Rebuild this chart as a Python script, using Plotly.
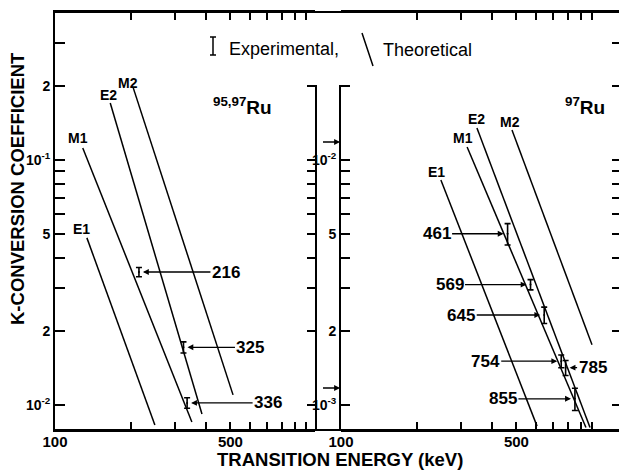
import numpy as np
import plotly.graph_objects as go

# ---------------- data ----------------
energy_ticks = [100, 200, 300, 400, 500, 600, 700, 800, 900, 1000]
energy_ticktext = ["100", "", "", "", "500", "", "", "", "", ""]

left_y_ticks = [0.01, 0.02, 0.03, 0.04, 0.05, 0.06, 0.07, 0.08, 0.09, 0.1, 0.2, 0.3]
left_y_text = ["10<sup>-2</sup>", "2", "", "", "5", "", "", "", "", "10<sup>-1</sup>", "2", ""]
right_y_ticks = [0.001, 0.002, 0.003, 0.004, 0.005, 0.006, 0.007, 0.008, 0.009, 0.01, 0.02, 0.03]
right_y_text = ["10<sup>-3</sup>", "2", "", "", "5", "", "", "", "", "10<sup>-2</sup>", "", ""]

# theoretical lines (start / end points), left panel 95,97Ru
left_lines = ["E1", "M1", "E2", "M2"]
left_e_start = [134, 129, 166, 205]
left_e_end = [250, 351, 385, 512]
left_a_start = [0.0481, 0.112, 0.171, 0.197]
left_a_end = [0.00828, 0.00853, 0.00919, 0.0110]

# theoretical lines, right panel 97Ru
right_lines = ["E1", "M1", "E2", "M2"]
right_e_start = [250, 318, 348, 480]
right_e_end = [604, 946, 982, 1000]
right_a_start = [0.00829, 0.0113, 0.0135, 0.01326]
right_a_end = [0.00082, 0.00081, 0.00081, 0.00176]

# experimental points
left_exp_energy = [216, 325, 336]
left_exp_alpha = [0.0349, 0.0172, 0.0102]
left_exp_err = [0.0015, 0.0009, 0.0005]

right_exp_energy = [461, 569, 645, 754, 785, 855]
right_exp_alpha = [0.0050, 0.0031, 0.00233, 0.00151, 0.00142, 0.00106]
right_exp_err = [0.0005, 0.00015, 0.00018, 0.00009, 0.0001, 0.00011]

# ---------------- layout geometry (pixels) ----------------
W, H = 619, 471
ML, MR, MT, MB = 55, 0, 12, 41
PW, PH = W - ML - MR, H - MT - MB
LEFT_END, RIGHT_START = 315, 341
DEC_X = 251.0
Y_TOP_LOG_L = -1 + 148 / 245
Y_BOT_LOG_L = -1 - 270 / 245
STRIP_TOP = 85


def px(x):
    return (x - ML) / PW


def py(y):
    return (MT + PH - y) / PH


FONT = "Liberation Sans"
BLACK = "black"

fig = go.Figure()

# theoretical lines
for i, name in enumerate(left_lines):
    fig.add_trace(go.Scatter(x=[left_e_start[i], left_e_end[i]], y=[left_a_start[i], left_a_end[i]],
                             mode="lines", line=dict(color=BLACK, width=1.5),
                             xaxis="x", yaxis="y", showlegend=False, hoverinfo="skip"))
for i, name in enumerate(right_lines):
    fig.add_trace(go.Scatter(x=[right_e_start[i], right_e_end[i]], y=[right_a_start[i], right_a_end[i]],
                             mode="lines", line=dict(color=BLACK, width=1.5),
                             xaxis="x2", yaxis="y2", showlegend=False, hoverinfo="skip"))

# experimental points
errstyle = dict(type="data", visible=True, color=BLACK, thickness=1.6, width=3)
fig.add_trace(go.Scatter(x=left_exp_energy, y=left_exp_alpha, mode="markers",
                         marker=dict(size=2, color=BLACK),
                         error_y=dict(array=left_exp_err, **errstyle),
                         xaxis="x", yaxis="y", showlegend=False, hoverinfo="skip"))
fig.add_trace(go.Scatter(x=right_exp_energy, y=right_exp_alpha, mode="markers",
                         marker=dict(size=2, color=BLACK),
                         error_y=dict(array=right_exp_err, **errstyle),
                         xaxis="x2", yaxis="y2", showlegend=False, hoverinfo="skip"))

# dummy traces so strip axes are drawn
fig.add_trace(go.Scatter(x=[], y=[], xaxis="x2", yaxis="y3", showlegend=False, hoverinfo="skip"))
fig.add_trace(go.Scatter(x=[], y=[], xaxis="x", yaxis="y4", showlegend=False, hoverinfo="skip"))

common = dict(type="log", showgrid=False, zeroline=False, ticks="inside", tickwidth=2,
              tickcolor=BLACK, linecolor=BLACK, linewidth=2)
bold = lambda lst: ["<b>%s</b>" % t if t else "" for t in lst]

fig.update_layout(
    width=W, height=H,
    margin=dict(l=ML, r=MR, t=MT, b=MB, pad=0),
    paper_bgcolor="white", plot_bgcolor="rgba(0,0,0,0)",
    font=dict(family=FONT, color=BLACK),
    xaxis=dict(common, domain=[0, px(LEFT_END)], range=[2, 2 + (LEFT_END - ML) / DEC_X],
               tickvals=energy_ticks, ticktext=bold(energy_ticktext), ticklen=8,
               showline=True, mirror="ticks", anchor="y", tickfont=dict(size=15),
               ticklabelstandoff=-3),
    xaxis2=dict(common, domain=[px(RIGHT_START), 1], range=[2, 2 + (W - MR - RIGHT_START) / DEC_X],
                tickvals=energy_ticks, ticktext=bold(energy_ticktext), ticklen=8,
                showline=True, mirror="ticks", anchor="y2", tickfont=dict(size=15),
                ticklabelstandoff=-3),
    yaxis=dict(common, domain=[0, 1], range=[Y_BOT_LOG_L, Y_TOP_LOG_L], anchor="x", side="left",
               tickvals=left_y_ticks, ticktext=bold(left_y_text), ticklen=10, showline=True,
               tickfont=dict(size=14)),
    yaxis2=dict(common, domain=[0, 1], range=[Y_BOT_LOG_L - 1, Y_TOP_LOG_L - 1], anchor="x2",
                side="right", tickvals=right_y_ticks, ticklen=7, showline=False,
                showticklabels=False),
    yaxis3=dict(common, domain=[0, py(STRIP_TOP)],
                range=[Y_BOT_LOG_L - 1, -2 + (160 - STRIP_TOP) / 245], anchor="x2", side="left",
                tickvals=right_y_ticks[:11], ticktext=bold(right_y_text[:11]), ticklen=9,
                showline=True, tickfont=dict(size=14)),
    yaxis4=dict(common, domain=[0, py(STRIP_TOP)],
                range=[Y_BOT_LOG_L, -1 + (160 - STRIP_TOP) / 245], anchor="x", side="right",
                tickvals=left_y_ticks[:11], ticklen=8, showline=True, showticklabels=False),
)

ann = []
# line labels
left_lab_shift = [(-5, 9), (-5, 10), (-2, 8), (-5, 5)]
right_lab_shift = [(-4, 8), (-4, 9), (0, 9), (-2, 8)]
for i, name in enumerate(left_lines):
    ann.append(dict(xref="x", yref="y", x=np.log10(left_e_start[i]), y=np.log10(left_a_start[i]),
                    text="<b>%s</b>" % name, showarrow=False, xshift=left_lab_shift[i][0],
                    yshift=left_lab_shift[i][1], xanchor="center", yanchor="middle",
                    font=dict(size=14)))
for i, name in enumerate(right_lines):
    ann.append(dict(xref="x2", yref="y2", x=np.log10(right_e_start[i]), y=np.log10(right_a_start[i]),
                    text="<b>%s</b>" % name, showarrow=False, xshift=right_lab_shift[i][0],
                    yshift=right_lab_shift[i][1], xanchor="center", yanchor="middle",
                    font=dict(size=14)))

# experimental labels with arrows
left_ax = [87, 67, 81]
right_ax = [-71, -81, -83, -76, 27, -72]
arrow_style = dict(showarrow=True, arrowhead=2, arrowsize=0.9, arrowwidth=1.3, arrowcolor=BLACK,
                   standoff=4, ay=0, font=dict(size=17))
for i, e in enumerate(left_exp_energy):
    ann.append(dict(arrow_style, xref="x", yref="y", x=np.log10(e), y=np.log10(left_exp_alpha[i]),
                    text="<b>%d</b>" % e, ax=left_ax[i]))
for i, e in enumerate(right_exp_energy):
    ann.append(dict(arrow_style, xref="x2", yref="y2", x=np.log10(e), y=np.log10(right_exp_alpha[i]),
                    text="<b>%d</b>" % e, ax=right_ax[i]))

# strip arrows pointing to the right-hand scale
for val, ys in [(0.01, 18), (0.001, 17)]:
    ann.append(dict(xref="x2", yref="y3", x=2, y=np.log10(val), yshift=ys, text=" ",
                    showarrow=True, arrowhead=2, arrowsize=0.9, arrowwidth=1.3, arrowcolor=BLACK,
                    ax=-21, ay=0, standoff=1))

paper = dict(xref="paper", yref="paper", showarrow=False, xanchor="center", yanchor="middle")
# panel labels
ann.append(dict(paper, x=px(242), y=py(106), text="<b><sup>95,97</sup>Ru</b>", font=dict(size=19)))
ann.append(dict(paper, x=px(585), y=py(106), text="<b><sup>97</sup>Ru</b>", font=dict(size=19)))

# legend text
ann.append(dict(paper, x=px(227), y=py(49), xanchor="left", text="Experimental,", font=dict(size=18)))
ann.append(dict(paper, x=px(381), y=py(50), xanchor="left", text="Theoretical", font=dict(size=18)))

# axis titles
ann.append(dict(paper, x=px(340), y=py(459), text="<b>TRANSITION ENERGY (keV)</b>", font=dict(size=18.5)))
ann.append(dict(paper, x=px(17.5), y=py(188.5), textangle=-90,
                text="<b>K-CONVERSION COEFFICIENT</b>", font=dict(size=18.5)))

fig.update_layout(annotations=ann)

# frame lines and legend glyphs
shapes = [
    dict(type="line", xref="paper", yref="paper", x0=0, x1=1, y0=1, y1=1,
         line=dict(color=BLACK, width=2)),
    dict(type="line", xref="paper", yref="paper", x0=0, x1=1, y0=0, y1=0,
         line=dict(color=BLACK, width=2)),
    # "I" legend glyph
    dict(type="line", xref="paper", yref="paper", x0=px(213), x1=px(213), y0=py(37), y1=py(55),
         line=dict(color=BLACK, width=1.5)),
    dict(type="line", xref="paper", yref="paper", x0=px(210), x1=px(216), y0=py(37), y1=py(37),
         line=dict(color=BLACK, width=1.5)),
    dict(type="line", xref="paper", yref="paper", x0=px(210), x1=px(216), y0=py(55), y1=py(55),
         line=dict(color=BLACK, width=1.5)),
    # "\" legend glyph
    dict(type="line", xref="paper", yref="paper", x0=px(362), x1=px(373), y0=py(33), y1=py(66),
         line=dict(color=BLACK, width=1.5)),
]
fig.update_layout(shapes=shapes)

fig.write_html("out.html")
